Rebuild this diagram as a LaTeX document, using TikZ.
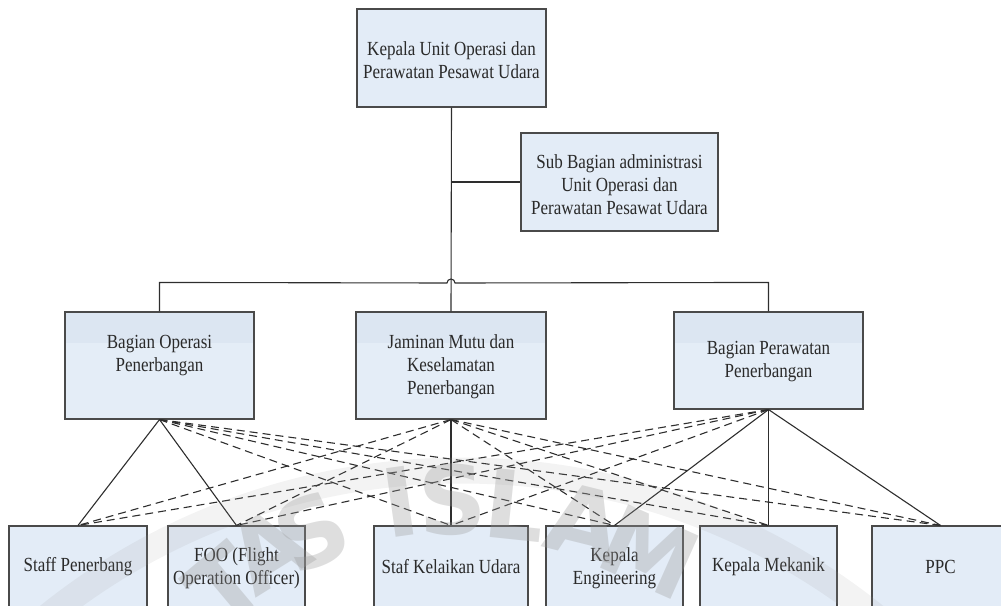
\documentclass[tikz,border=0pt]{standalone}
\usepackage{fontspec}
\setmainfont{Liberation Serif}[FakeStretch=0.85]
\newfontfamily\wmfont{DejaVu Sans}
\definecolor{boxline}{HTML}{4A4A4A}
\definecolor{boxfill}{HTML}{E3ECF7}
\definecolor{midfill}{HTML}{E4EDF7}
\definecolor{midband}{HTML}{DCE6F2}
\definecolor{txt}{HTML}{2A2A2A}
\definecolor{linecol}{HTML}{2E2E2E}
\begin{document}
\begin{tikzpicture}[x=1pt,y=-1pt,
  box/.style={draw=boxline, line width=1.1pt, fill=boxfill, inner sep=0pt},
  midbox/.style={box, fill=midfill,
    path picture={\fill[midband] (path picture bounding box.north west)
      rectangle ([yshift=-31pt]path picture bounding box.north east);}},
  lbl/.style={text=txt, align=center, inner sep=0pt,
    font=\fontsize{20}{23}\selectfont},
  link/.style={draw=linecol, line width=1.1pt},
  dlink/.style={link, dash pattern=on 8pt off 5pt},
  wm/.style={text=black!40, opacity=0.32, inner sep=0pt,
    font=\wmfont\bfseries\fontsize{95}{95}\selectfont}]
\useasboundingbox (0,0) rectangle (1001,605);
\clip (0,0) rectangle (1001,605);

% head of the unit and its administration
\node[box, minimum width=189pt, minimum height=98pt] (top) at (451.5,58) {};
\node[lbl] (topT) at (451.5,60) {Kepala Unit Operasi dan\\Perawatan Pesawat Udara};
\node[box, minimum width=197pt, minimum height=98pt] (sub) at (619.5,182) {};
\node[lbl] (subT) at (619.5,185) {Sub Bagian administrasi\\Unit Operasi dan\\Perawatan Pesawat Udara};

% departments
\node[midbox, minimum width=189pt, minimum height=107pt] (ops) at (159.5,365.5) {};
\node[lbl] (opsT) at (159.5,355.5) {Bagian Operasi\\Penerbangan};
\node[midbox, minimum width=190pt, minimum height=107pt] (qa) at (451,365.5) {};
\node[lbl] (qaT) at (451,367) {Jaminan Mutu dan\\Keselamatan\\Penerbangan};
\node[midbox, minimum width=189pt, minimum height=97pt] (mnt) at (768.5,360.5) {};
\node[lbl] (mntT) at (768.5,361.5) {Bagian Perawatan\\Penerbangan};

% staff level
\node[box, minimum width=138pt, minimum height=94pt] (sp) at (78,573) {};
\node[lbl] (spT) at (78,567) {Staff Penerbang};
\node[box, minimum width=137pt, minimum height=94pt] (foo) at (236.5,573) {};
\node[lbl] (fooT) at (236.5,568) {FOO (Flight\\Operation Officer)};
\node[box, minimum width=154pt, minimum height=94pt] (ska) at (451,573) {};
\node[lbl] (skaT) at (451,567) {Staf Kelaikan Udara};
\node[box, minimum width=137pt, minimum height=94pt] (ke) at (614.5,573) {};
\node[lbl] (keT) at (614.5,568) {Kepala\\Engineering};
\node[box, minimum width=137pt, minimum height=94pt] (km) at (768.5,573) {};
\node[lbl] (kmT) at (768.5,567) {Kepala Mekanik};
\node[box, minimum width=137pt, minimum height=94pt] (ppc) at (940.5,573) {};
\node[lbl] (ppcT) at (940.5,567) {PPC};

% upper hierarchy
\coordinate (j) at (top.south |- sub.west);
\coordinate (busL) at ([yshift=29pt]ops.north);
\coordinate (busR) at ([yshift=29pt]mnt.north);
\coordinate (hop) at (447,283);
\draw[link] (top.south) -- (qa.north);
\draw[link] (j) -- (sub.west);
\draw[link] (ops.north) -- (busL) -- (hop)
  arc[start angle=180, end angle=0, radius=4pt] -- (busR) -- (mnt.north);

% direct lines
\draw[link] (ops.south) -- (sp.north);
\draw[link] (ops.south) -- (foo.north);
\draw[link] (qa.south) -- (ska.north);
\draw[link] (mnt.south) -- (ke.north);
\draw[link] (mnt.south) -- (km.north);
\draw[link] (mnt.south) -- (ppc.north);

% coordination lines
\foreach \s in {ska,ke,km,ppc} \draw[dlink] (ops.south) -- (\s.north);
\foreach \s in {sp,foo,ke,km,ppc} \draw[dlink] (qa.south) -- (\s.north);
\foreach \s in {sp,foo,ska} \draw[dlink] (mnt.south) -- (\s.north);

% faint seal in the background
\draw[black!40, opacity=0.12, line width=26pt] (20,640) arc[start angle=132, end angle=48, radius=660pt];
\node[wm, rotate=40] (w1) at (225,585) {T};
\node[wm, rotate=32] (w2) at (268,550) {A};
\node[wm, rotate=25] (w3) at (312,532) {S};
\node[wm, rotate=8]  (w4) at (400,502) {I};
\node[wm, rotate=2]  (w5) at (452,500) {S};
\node[wm, rotate=-6] (w6) at (515,505) {L};
\node[wm, rotate=-14] (w7) at (585,522) {A};
\node[wm, rotate=-24] (w8) at (650,552) {M};
\end{tikzpicture}
\end{document}
